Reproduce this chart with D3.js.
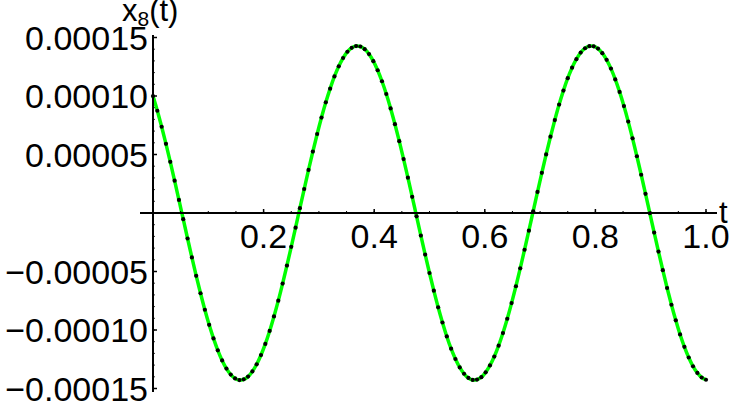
<!DOCTYPE html>
<html lang="en">
<head>
    <meta charset="UTF-8">
    <title>x8(t)</title>
    <script src="https://d3js.org/d3.v7.min.js"></script>
    <style>
        body { margin: 0; background: #fff; }
        text { font-family: "Liberation Sans", Arial, sans-serif; fill: #000; }
    </style>
</head>
<body>
<script>
    const width = 733
    const height = 405

    // sampled solution, t from 0 to 1 in steps of 1/128
    const tStep = 1 / 128
    const xValues = [
        0.999e-4, 0.874e-4, 0.737e-4, 0.591e-4, 0.437e-4, 0.276e-4, 0.112e-4, -0.053e-4,
        -0.218e-4, -0.380e-4, -0.537e-4, -0.686e-4, -0.827e-4, -0.956e-4, -1.072e-4, -1.174e-4,
        -1.260e-4, -1.330e-4, -1.381e-4, -1.414e-4, -1.428e-4, -1.422e-4, -1.398e-4, -1.354e-4,
        -1.293e-4, -1.214e-4, -1.119e-4, -1.008e-4, -0.884e-4, -0.749e-4, -0.603e-4, -0.449e-4,
        -0.289e-4, -0.125e-4, 0.041e-4, 0.205e-4, 0.368e-4, 0.525e-4, 0.675e-4, 0.816e-4,
        0.946e-4, 1.063e-4, 1.167e-4, 1.254e-4, 1.325e-4, 1.378e-4, 1.412e-4, 1.427e-4,
        1.423e-4, 1.400e-4, 1.358e-4, 1.298e-4, 1.220e-4, 1.126e-4, 1.017e-4, 0.894e-4,
        0.759e-4, 0.614e-4, 0.461e-4, 0.302e-4, 0.138e-4, -0.028e-4, -0.193e-4, -0.355e-4,
        -0.513e-4, -0.664e-4, -0.806e-4, -0.936e-4, -1.055e-4, -1.160e-4, -1.248e-4, -1.320e-4,
        -1.374e-4, -1.410e-4, -1.427e-4, -1.424e-4, -1.403e-4, -1.362e-4, -1.303e-4, -1.227e-4,
        -1.134e-4, -1.026e-4, -0.904e-4, -0.770e-4, -0.626e-4, -0.473e-4, -0.314e-4, -0.151e-4,
        0.015e-4, 0.180e-4, 0.343e-4, 0.501e-4, 0.652e-4, 0.794e-4, 0.927e-4, 1.046e-4,
        1.152e-4, 1.242e-4, 1.315e-4, 1.371e-4, 1.408e-4, 1.426e-4, 1.425e-4, 1.405e-4,
        1.366e-4, 1.309e-4, 1.234e-4, 1.142e-4, 1.035e-4, 0.914e-4, 0.781e-4, 0.638e-4,
        0.485e-4, 0.327e-4, 0.164e-4, -0.002e-4, -0.167e-4, -0.330e-4, -0.489e-4, -0.641e-4,
        -0.784e-4, -0.917e-4, -1.038e-4, -1.144e-4, -1.235e-4, -1.310e-4, -1.367e-4, -1.406e-4,
        -1.425e-4
    ]
    const xTicks = [0.2, 0.4, 0.6, 0.8, 1.0]
    const xTickLabels = ["0.2", "0.4", "0.6", "0.8", "1.0"]
    const yTicks = [0.00015, 0.0001, 0.00005, -0.00005, -0.0001, -0.00015]
    const yTickLabels = ["0.00015", "0.00010", "0.00005", "\u22120.00005", "\u22120.00010", "\u22120.00015"]

    const data = xValues.map(function (v, i) {
        return {t: i * tStep, x: v}
    })

    const xScale = d3.scaleLinear()
        .domain([0, 1])
        .range([153, 706])
    const yScale = d3.scaleLinear()
        .domain([-0.00015, 0.00015])
        .range([388.5, 37.5])

    const svg = d3.select("body")
        .append("svg")
        .attr("width", width)
        .attr("height", height)

    // curve
    const line = d3.line()
        .x(function (d) { return xScale(d.t) })
        .y(function (d) { return yScale(d.x) })
        .curve(d3.curveCatmullRom)
    svg.append("path")
        .datum(data)
        .attr("d", line)
        .attr("fill", "none")
        .attr("stroke", "#00ff00")
        .attr("stroke-width", 3.5)

    svg.append("g")
        .selectAll("circle")
        .data(data)
        .enter()
        .append("circle")
        .attr("cx", function (d) { return xScale(d.t) })
        .attr("cy", function (d) { return yScale(d.x) })
        .attr("r", 2.1)
        .attr("fill", "#000")

    // axes
    const y0 = yScale(0)
    svg.append("line")
        .attr("x1", 140).attr("x2", 717)
        .attr("y1", y0).attr("y2", y0)
        .attr("stroke", "#000").attr("stroke-width", 2)
    svg.append("line")
        .attr("x1", xScale(0)).attr("x2", xScale(0))
        .attr("y1", 35).attr("y2", 392)
        .attr("stroke", "#000").attr("stroke-width", 2)

    // x ticks
    const xMinor = d3.range(0.05, 1.01, 0.05)
    svg.append("g")
        .selectAll("line")
        .data(xMinor)
        .enter()
        .append("line")
        .attr("x1", function (d) { return xScale(d) })
        .attr("x2", function (d) { return xScale(d) })
        .attr("y1", y0)
        .attr("y2", y0 - 2)
        .attr("stroke", "#000")
        .attr("stroke-width", 1)
    svg.append("g")
        .selectAll("line")
        .data(xTicks)
        .enter()
        .append("line")
        .attr("x1", function (d) { return xScale(d) })
        .attr("x2", function (d) { return xScale(d) })
        .attr("y1", y0)
        .attr("y2", y0 - 4)
        .attr("stroke", "#000")
        .attr("stroke-width", 1.5)
    svg.append("g")
        .selectAll("text")
        .data(xTicks)
        .enter()
        .append("text")
        .text(function (d, i) { return xTickLabels[i] })
        .attr("x", function (d) { return xScale(d) })
        .attr("y", 248)
        .attr("text-anchor", "middle")
        .attr("font-size", 34)

    // y ticks
    const yMinor = d3.range(-15, 16, 1).map(function (d) { return d * 1e-5 })
    svg.append("g")
        .selectAll("line")
        .data(yMinor)
        .enter()
        .append("line")
        .attr("x1", xScale(0))
        .attr("x2", xScale(0) + 2)
        .attr("y1", function (d) { return yScale(d) })
        .attr("y2", function (d) { return yScale(d) })
        .attr("stroke", "#000")
        .attr("stroke-width", 0.8)
    svg.append("g")
        .selectAll("line")
        .data(yTicks)
        .enter()
        .append("line")
        .attr("x1", xScale(0))
        .attr("x2", xScale(0) + 4)
        .attr("y1", function (d) { return yScale(d) })
        .attr("y2", function (d) { return yScale(d) })
        .attr("stroke", "#000")
        .attr("stroke-width", 1.5)
    svg.append("g")
        .selectAll("text")
        .data(yTicks)
        .enter()
        .append("text")
        .text(function (d, i) { return yTickLabels[i] })
        .attr("x", 148)
        .attr("y", function (d) { return yScale(d) + 12 })
        .attr("text-anchor", "end")
        .attr("font-size", 34)

    // axis labels
    svg.append("text")
        .text("t")
        .attr("x", 719)
        .attr("y", 223)
        .attr("font-size", 31)
    const yl = svg.append("text")
        .attr("x", 122)
        .attr("y", 21)
        .attr("font-size", 31)
    yl.append("tspan").text("x")
    yl.append("tspan").text("8").attr("font-size", 21).attr("dy", 5)
    yl.append("tspan").text("(t)").attr("dy", -5)
</script>
</body>
</html>
